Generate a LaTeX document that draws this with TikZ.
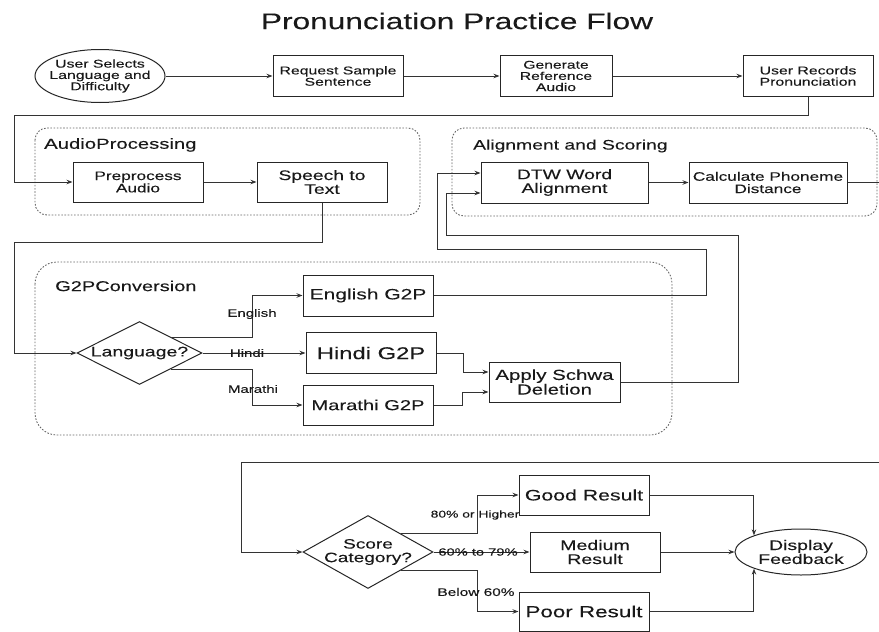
\documentclass[tikz,border=0pt]{standalone}
\usepackage{fontspec}
\setmainfont{Liberation Sans}[FakeStretch=1.4, FakeBold=0.15]
\usetikzlibrary{shapes.geometric,arrows.meta,calc}
\begin{document}
\begin{tikzpicture}[x=1pt,y=-1pt,
  box/.style={draw=black!85, line width=1pt, rectangle, inner sep=0pt, align=center, text=black!90},
  fs/.style={font=\fontsize{#1}{#1}\selectfont},
  arr/.style={draw=black!80, line width=1pt, -{Stealth[length=6pt,width=4.5pt]}},
  ln/.style={draw=black!80, line width=1pt},
  grp/.style={draw=black!60, line width=0.9pt, dash pattern=on 1.6pt off 1.6pt, rounded corners=#1},
  lbl/.style={text=black!90, inner sep=1pt},
]
\useasboundingbox (0,0) rectangle (879,632);

% title
\node[fs=22.6, text=black!90] (title) at (457,21) {Pronunciation Practice Flow};

% groups
\draw[grp=12] (35,128) rectangle (420,215);
\draw[grp=12] (452,128) rectangle (877,216);
\draw[grp=22] (35,262) rectangle (672,435);
\node[lbl, fs=14.5, anchor=west] (gap) at (43,145) {AudioProcessing};
\node[lbl, fs=13.8, anchor=west] (gal) at (472,146) {Alignment and Scoring};
\node[lbl, fs=14.3, anchor=west] (gg2p) at (54,286) {G2PConversion};

% top row
\node[box, ellipse, fs=11.3, minimum width=130pt, minimum height=53pt, inner sep=-6pt] (user) at (100,76) {User Selects\\Language and\\Difficulty};
\node[box, fs=11.3, minimum width=130pt, minimum height=41pt] (req) at (338,76) {Request Sample\\Sentence};
\node[box, fs=11.2, minimum width=112pt, minimum height=41pt] (gen) at (556,76) {Generate\\Reference\\Audio};
\node[box, fs=11.3, minimum width=130pt, minimum height=41pt] (rec) at (808,76) {User Records\\Pronunciation};

% audio processing
\node[box, fs=12.3, minimum width=130pt, minimum height=40pt] (pre) at (138,182) {Preprocess\\Audio};
\node[box, fs=13.8, minimum width=130pt, minimum height=40pt] (stt) at (322,182) {Speech to\\Text};

% alignment
\node[box, fs=13.8, minimum width=167pt, minimum height=41pt] (dtw) at (564.5,182.5) {DTW Word\\Alignment};
\node[box, fs=12.3, minimum width=158pt, minimum height=41pt] (calc) at (768,182.5) {Calculate Phoneme\\Distance};

% G2P
\node[box, diamond, fs=13.9, shape aspect=2, inner sep=-1pt, minimum width=125pt, minimum height=63pt] (lang) at (139.5,353) {Language?};
\node[box, fs=15, minimum width=130pt, minimum height=41pt] (eng) at (368,295.5) {English G2P};
\node[box, fs=17, minimum width=130pt, minimum height=41pt] (hin) at (371,353) {Hindi G2P};
\node[box, fs=14.4, minimum width=130pt, minimum height=40pt] (mar) at (368,405) {Marathi G2P};
\node[box, fs=14.6, minimum width=131pt, minimum height=40pt] (schwa) at (554.5,382) {Apply Schwa\\Deletion};

% score
\node[box, diamond, fs=13.6, shape aspect=1.78, inner sep=-2pt, minimum width=130pt, minimum height=73pt] (score) at (368,552) {Score\\Category?};
\node[box, fs=15.2, minimum width=130pt, minimum height=40pt] (good) at (584,495) {Good Result};
\node[box, fs=14, minimum width=130pt, minimum height=40pt] (med) at (595,552) {Medium\\Result};
\node[box, fs=16, minimum width=130pt, minimum height=39pt] (poor) at (584,611.5) {Poor Result};
\node[box, ellipse, fs=13.9, minimum width=132pt, minimum height=46pt, inner sep=-6pt] (disp) at (801,552) {Display\\Feedback};

% connectors top
\draw[arr] (user.east) -- (req.west);
\draw[arr] (req.east) -- (gen.west);
\draw[arr] (gen.east) -- (rec.west);
\coordinate (c1) at (14,115);
\draw[arr] (rec.south) |- (c1) |- (pre.west);
\draw[arr] (pre.east) -- (stt.west);
\coordinate (c2) at (14,242);
\draw[arr] (stt.south) |- (c2) |- (lang.west);
\draw[arr] (dtw.east) -- (calc.west);
\coordinate (r1) at (879,182.5);
\draw[ln] (calc.east) -- (r1);

% language branches
\coordinate (e1) at (252,295.5);
\draw[arr] (lang.north east) -| (e1) -- (eng.west);
\node[lbl, fs=10.7] (le) at (252,314) {English};
\draw[arr] (lang.east) -- (hin.west);
\node[lbl, fs=10.7] (lh) at (247,353) {Hindi};
\coordinate (m1) at (252,405);
\draw[arr] (lang.south east) -| (m1) -- (mar.west);
\node[lbl, fs=10.7] (lm) at (253,389) {Marathi};

% to schwa
\coordinate (s1) at (463,372);
\coordinate (s2) at (462,392);
\draw[arr] (hin.east) -| (s1) -- (s1 -| schwa.west);
\draw[arr] (mar.east) -| (s2) -- (s2 -| schwa.west);

% back to DTW
\coordinate (d1) at (706,249);
\coordinate (d2) at (437,173);
\draw[arr] (eng.east) -| (d1) -| (d2) -- (d2 -| dtw.west);
\coordinate (d3) at (738,235);
\coordinate (d4) at (446,193);
\draw[arr] (schwa.east) -| (d3) -| (d4) -- (d4 -| dtw.west);

% score section
\coordinate (r2) at (879,462);
\coordinate (k1) at (241,462);
\draw[arr] (r2) -- (k1) |- (score.west);
\coordinate (g1) at (477,495);
\coordinate (p1) at (477,611.5);
\draw[arr] (score.north east) -| (g1) -- (good.west);
\draw[arr] (score.east) -- (med.west);
\draw[arr] (score.south east) -| (p1) -- (poor.west);
\node[lbl, fs=9.9] (l80) at (475,515) {80\% or Higher};
\node[lbl, fs=10.5] (l60) at (478,552) {60\% to 79\%};
\node[lbl, fs=11] (lb) at (476,592) {Below 60\%};
\draw[arr] (good.east) -| (disp.north west);
\draw[arr] (med.east) -- (disp.west);
\draw[arr] (poor.east) -| (disp.south west);
\end{tikzpicture}
\end{document}
